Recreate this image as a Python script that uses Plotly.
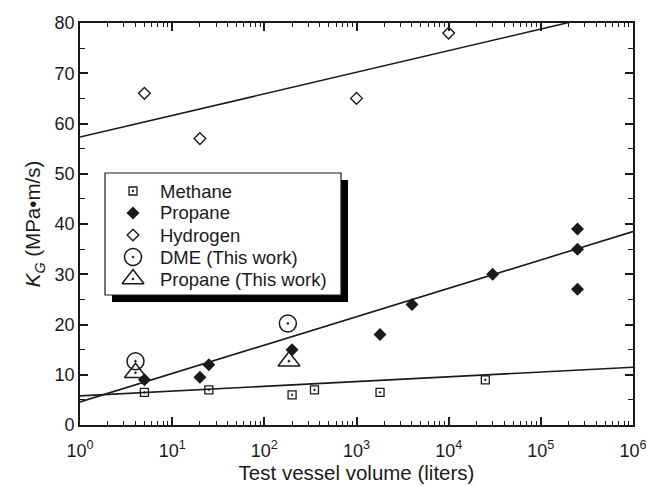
import plotly.graph_objects as go

# ---- data ----
methane_v = [5, 25, 200, 350, 1800, 25000]
methane_k = [6.5, 7.0, 6.0, 7.0, 6.5, 9.0]

propane_v = [5, 20, 25, 200, 1800, 4000, 30000, 250000, 250000, 250000]
propane_k = [9.0, 9.5, 12.0, 15.0, 18.0, 24.0, 30.0, 39.0, 35.0, 27.0]

hydrogen_v = [5, 20, 1000, 10000]
hydrogen_k = [66.0, 57.0, 65.0, 78.0]

dme_v = [4, 180]
dme_k = [12.7, 20.2]

propane_tw_v = [4, 185]
propane_tw_k = [10.4, 12.7]

fit_v = [1, 1e6]
fit_hydrogen = [57.3, 83.1]
fit_propane = [4.6, 38.5]
fit_methane = [5.8, 11.5]

legend_names = ["Methane", "Propane", "Hydrogen", "DME (This work)", "Propane (This work)"]

x_tickvals = [1, 10, 100, 1000, 10000, 100000, 1000000]
x_ticktext = ["10<sup>0</sup>", "10<sup>1</sup>", "10<sup>2</sup>", "10<sup>3</sup>",
              "10<sup>4</sup>", "10<sup>5</sup>", "10<sup>6</sup>"]
y_tickvals = [0, 10, 20, 30, 40, 50, 60, 70, 80]

FONT = "Liberation Sans, Arial, sans-serif"
INK = "#1a1a1a"

styles = [
    dict(symbol="square-open-dot", size=8, color=INK, line=dict(width=1.3, color=INK)),
    dict(symbol="diamond", size=10, color=INK, line=dict(width=0)),
    dict(symbol="diamond-open", size=9, color=INK, line=dict(width=1.4, color=INK)),
    dict(symbol="circle-open-dot", size=17, color=INK, line=dict(width=1.5, color=INK)),
    dict(symbol="triangle-up-open-dot", size=19, color=INK, line=dict(width=1.5, color=INK)),
]

fig = go.Figure()

for yv in (fit_hydrogen, fit_propane, fit_methane):
    fig.add_trace(go.Scatter(x=fit_v, y=yv, mode="lines",
                             line=dict(color=INK, width=1.6),
                             showlegend=False, hoverinfo="skip"))

series = [(methane_v, methane_k), (propane_v, propane_k), (hydrogen_v, hydrogen_k),
          (dme_v, dme_k), (propane_tw_v, propane_tw_k)]
for (xs, ys), name, st in zip(series, legend_names, styles):
    fig.add_trace(go.Scatter(x=xs, y=ys, mode="markers", name=name,
                             marker=st, showlegend=False))

L, R, T, B = 80, 14, 23, 61
W, H = 647, 486
pw, ph = W - L - R, H - T - B


def px(xp):
    return (xp - L) / pw


def py(yp):
    return (H - B - yp) / ph


# legend box with drop shadow
fig.add_shape(type="rect", xref="paper", yref="paper",
              x0=px(112), x1=px(348), y0=py(302), y1=py(180),
              fillcolor="black", line=dict(width=0), layer="below")
fig.add_shape(type="rect", xref="paper", yref="paper",
              x0=px(105), x1=px(341), y0=py(295), y1=py(173),
              fillcolor="white", line=dict(width=1.2, color=INK), layer="below")

# legend keys and labels
row_y = [191, 213, 235, 257, 279]
for name, st, ry in zip(legend_names, styles, row_y):
    fig.add_trace(go.Scatter(x=[px(133)], y=[py(ry)], mode="markers",
                             marker=st, xaxis="x2", yaxis="y2",
                             showlegend=False, hoverinfo="skip"))
    fig.add_annotation(text=name, xref="paper", yref="paper",
                       x=px(158), y=py(ry), xanchor="left", yanchor="middle",
                       showarrow=False, font=dict(size=18.5, family=FONT, color=INK))

fig.update_layout(
    width=W, height=H,
    margin=dict(l=L, r=R, t=T, b=B),
    paper_bgcolor="white", plot_bgcolor="white",
    font=dict(family=FONT, size=18, color=INK),
    showlegend=False,
    xaxis=dict(type="log", range=[0, 6], automargin=False,
               tickvals=x_tickvals, ticktext=x_ticktext,
               ticks="inside", ticklen=8, tickwidth=1.5, tickcolor=INK,
               minor=dict(ticks="inside", ticklen=4, tickwidth=1.2, tickcolor=INK,
                          dtick="D1"),
               showline=True, linewidth=1.8, linecolor=INK, mirror="ticks",
               showgrid=False, zeroline=False, ticklabelstandoff=8,
               title=dict(text="Test vessel volume (liters)", standoff=6,
                          font=dict(size=20.5)),
               tickfont=dict(size=18)),
    yaxis=dict(range=[0, 80], tickvals=y_tickvals, automargin=False,
               ticks="inside", ticklen=8, tickwidth=1.5, tickcolor=INK,
               minor=dict(ticks="inside", ticklen=5, tickwidth=1.2, tickcolor=INK,
                          dtick=5),
               showline=True, linewidth=1.8, linecolor=INK, mirror="ticks",
               showgrid=False, zeroline=False,
               title=dict(text="<i>K</i><sub><i>G</i></sub> (MPa•m/s)", standoff=8,
                          font=dict(size=20.5)),
               tickfont=dict(size=18)),
    xaxis2=dict(overlaying="x", range=[0, 1], visible=False, fixedrange=True),
    yaxis2=dict(overlaying="y", range=[0, 1], visible=False, fixedrange=True),
)

fig.write_html("out.html")
